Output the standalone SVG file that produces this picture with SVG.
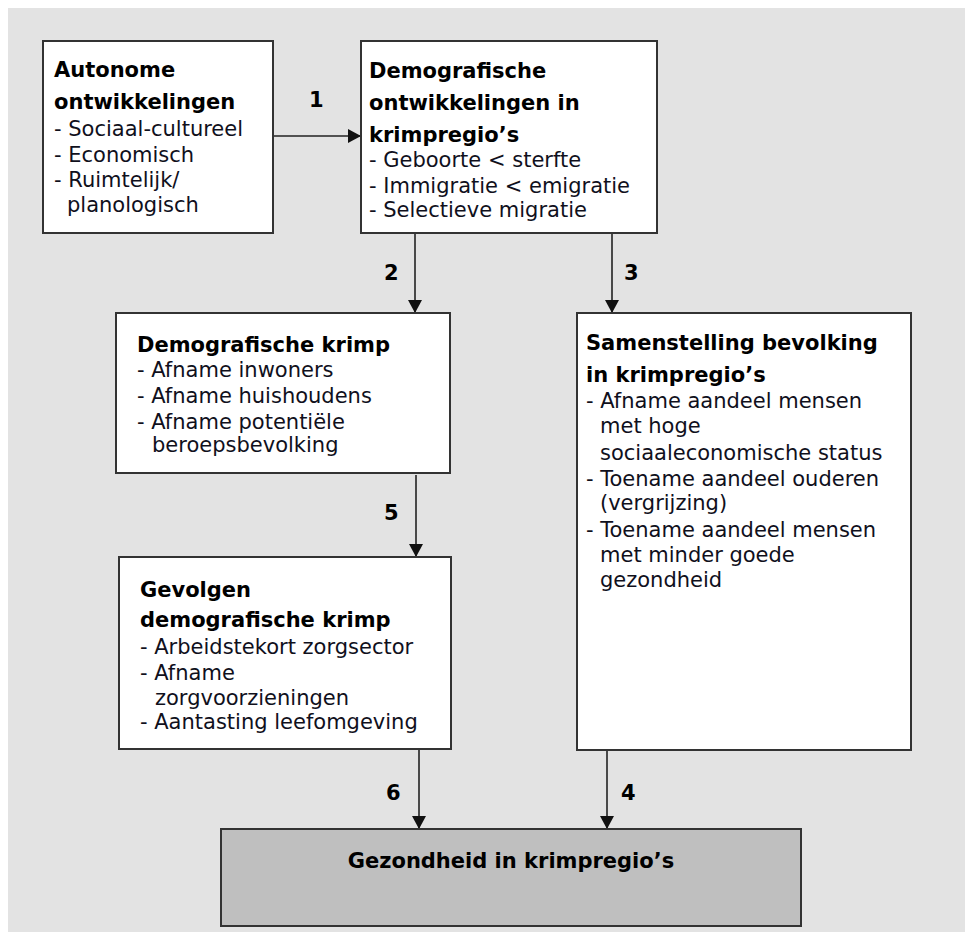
<svg xmlns="http://www.w3.org/2000/svg" width="965" height="932" viewBox="0 0 965 932">
<defs>
<marker id="arr" viewBox="0 0 13 14" refX="13" refY="7" markerWidth="13" markerHeight="14" markerUnits="userSpaceOnUse" orient="auto">
<path d="M0,0 L13,7 L0,14 z" fill="#111"/>
</marker>
<style>
.box{fill:#fff;stroke:#333;stroke-width:2}
.grey{fill:#bfbfbf;stroke:#333;stroke-width:2}
.t{font-family:"DejaVu Sans",Verdana,sans-serif;font-size:21px;fill:#10101c}
.b{font-family:"DejaVu Sans",Verdana,sans-serif;font-size:21px;font-weight:bold;fill:#000}
.c{stroke:#222;stroke-width:1.6;fill:none;marker-end:url(#arr)}
</style>
</defs>
<rect x="8" y="8" width="957" height="924" fill="#e3e3e3"/>
<g id="connectors">
<line class="c" x1="274" y1="136" x2="361" y2="136"/>
<line class="c" x1="415" y1="234" x2="415" y2="313"/>
<line class="c" x1="612" y1="234" x2="612" y2="313"/>
<line class="c" x1="416" y1="475" x2="416" y2="557"/>
<line class="c" x1="419" y1="750" x2="419" y2="829"/>
<line class="c" x1="607" y1="751" x2="607" y2="829"/>
<text class="b" x="309" y="107">1</text>
<text class="b" x="384" y="280">2</text>
<text class="b" x="624" y="280">3</text>
<text class="b" x="384" y="520">5</text>
<text class="b" x="386" y="800">6</text>
<text class="b" x="621" y="800">4</text>
</g>
<g id="autonome">
<rect class="box" x="43" y="41" width="230" height="192"/>
<text class="b" x="54" y="77">Autonome</text>
<text class="b" x="54" y="109">ontwikkelingen</text>
<text class="t" x="54" y="136">- Sociaal-cultureel</text>
<text class="t" x="54" y="162">- Economisch</text>
<text class="t" x="54" y="187">- Ruimtelijk/</text>
<text class="t" x="67" y="212">planologisch</text>
</g>
<g id="demo-ontw">
<rect class="box" x="361" y="41" width="296" height="192"/>
<text class="b" x="369" y="78">Demografische</text>
<text class="b" x="369" y="110">ontwikkelingen in</text>
<text class="b" x="369" y="142">krimpregio’s</text>
<text class="t" x="369" y="167">- Geboorte &lt; sterfte</text>
<text class="t" x="369" y="193">- Immigratie &lt; emigratie</text>
<text class="t" x="369" y="217">- Selectieve migratie</text>
</g>
<g id="demo-krimp">
<rect class="box" x="116" y="313" width="334" height="160"/>
<text class="b" x="137" y="352">Demografische krimp</text>
<text class="t" x="137" y="377">- Afname inwoners</text>
<text class="t" x="137" y="403">- Afname huishoudens</text>
<text class="t" x="137" y="429">- Afname potentiële</text>
<text class="t" x="152" y="452">beroepsbevolking</text>
</g>
<g id="samenstelling">
<rect class="box" x="577" y="313" width="334" height="437"/>
<text class="b" x="586" y="350">Samenstelling bevolking</text>
<text class="b" x="586" y="382">in krimpregio’s</text>
<text class="t" x="586" y="408">- Afname aandeel mensen</text>
<text class="t" x="600" y="433">met hoge</text>
<text class="t" x="600" y="460">sociaaleconomische status</text>
<text class="t" x="586" y="486">- Toename aandeel ouderen</text>
<text class="t" x="600" y="510">(vergrijzing)</text>
<text class="t" x="586" y="537">- Toename aandeel mensen</text>
<text class="t" x="600" y="562">met minder goede</text>
<text class="t" x="600" y="587">gezondheid</text>
</g>
<g id="gevolgen">
<rect class="box" x="119" y="557" width="332" height="192"/>
<text class="b" x="140" y="597">Gevolgen</text>
<text class="b" x="140" y="627">demografische krimp</text>
<text class="t" x="140" y="654">- Arbeidstekort zorgsector</text>
<text class="t" x="140" y="680">- Afname</text>
<text class="t" x="155" y="705">zorgvoorzieningen</text>
<text class="t" x="140" y="729">- Aantasting leefomgeving</text>
</g>
<g id="gezondheid">
<rect class="grey" x="221" y="829" width="580" height="97"/>
<text class="b" x="511" y="868" text-anchor="middle">Gezondheid in krimpregio’s</text>
</g>
</svg>
